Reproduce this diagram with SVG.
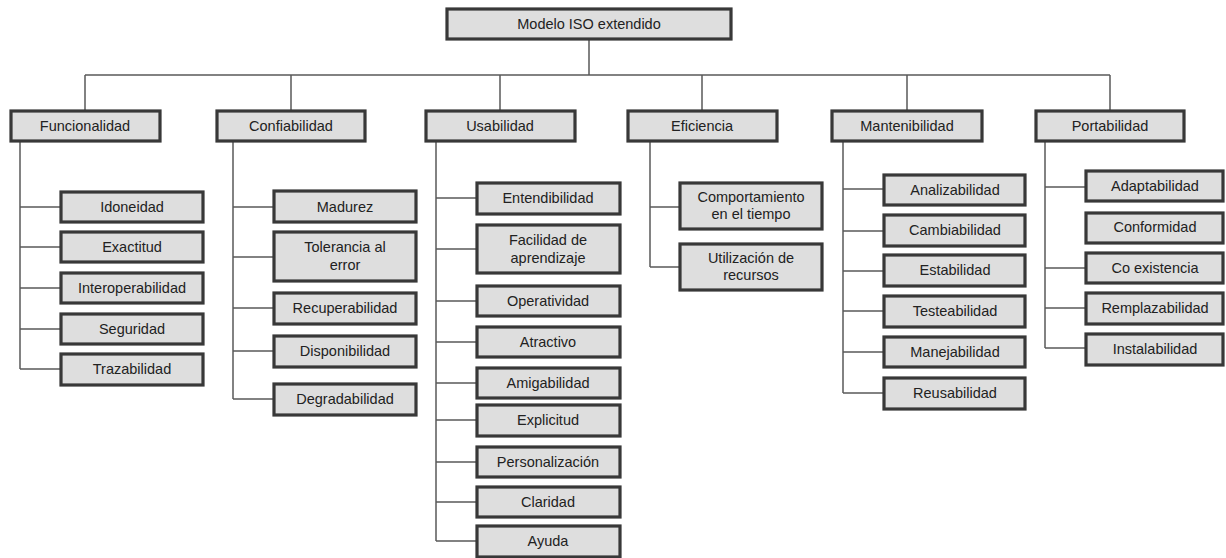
<svg xmlns="http://www.w3.org/2000/svg" width="1226" height="558" viewBox="0 0 1226 558">
<style>
.bg{fill:#ffffff}
.box{fill:#dedede;stroke:#383838;stroke-width:3.2}
.lbl{font-family:"Liberation Sans",Arial,sans-serif;font-size:14.5px;fill:#222;text-anchor:middle}
.conn{fill:none;stroke:#5a5a5a;stroke-width:1.5}
</style>
<rect class="bg" x="0" y="0" width="1226" height="558"/>
<g id="connectors">
<path class="conn" d="M589,39V75M85,75H1110M85,75V111M291,75V111M500,75V111M702,75V111M907,75V111M1110,75V111"/>
<path class="conn" d="M20,142V369M20,207H60M20,247H60M20,288H60M20,329H60M20,369H60"/>
<path class="conn" d="M233,142V399M233,207H273M233,257H273M233,308H273M233,351H273M233,399H273"/>
<path class="conn" d="M436,142V541M436,198H476M436,249H476M436,301H476M436,342H476M436,383H476M436,420H476M436,462H476M436,502H476M436,541H476"/>
<path class="conn" d="M650,142V267M650,207H679M650,267H679"/>
<path class="conn" d="M843,142V393M843,189H883M843,231H883M843,271H883M843,311H883M843,352H883M843,393H883"/>
<path class="conn" d="M1045,142V348M1045,187H1085M1045,268H1085M1045,308H1085M1045,348H1085"/>
</g>
<g id="root"><rect class="box" x="447" y="9" width="284" height="30"/><text class="lbl" x="589" y="29">Modelo ISO extendido</text></g>
<g id="funcionalidad"><rect class="box" x="11" y="111" width="149" height="30"/><text class="lbl" x="85" y="131">Funcionalidad</text></g>
<g id="confiabilidad"><rect class="box" x="217" y="111" width="148" height="30"/><text class="lbl" x="291" y="131">Confiabilidad</text></g>
<g id="usabilidad"><rect class="box" x="426" y="111" width="149" height="30"/><text class="lbl" x="500" y="131">Usabilidad</text></g>
<g id="eficiencia"><rect class="box" x="628" y="111" width="149" height="30"/><text class="lbl" x="702" y="131">Eficiencia</text></g>
<g id="mantenibilidad"><rect class="box" x="832" y="111" width="150" height="30"/><text class="lbl" x="907" y="131">Mantenibilidad</text></g>
<g id="portabilidad"><rect class="box" x="1036" y="111" width="148" height="30"/><text class="lbl" x="1110" y="131">Portabilidad</text></g>

<g id="idoneidad"><rect class="box" x="61" y="192" width="142" height="30"/><text class="lbl" x="132" y="212">Idoneidad</text></g>
<g id="exactitud"><rect class="box" x="61" y="232" width="142" height="30"/><text class="lbl" x="132" y="252">Exactitud</text></g>
<g id="interoperabilidad"><rect class="box" x="61" y="273" width="142" height="30"/><text class="lbl" x="132" y="293">Interoperabilidad</text></g>
<g id="seguridad"><rect class="box" x="61" y="314" width="142" height="30"/><text class="lbl" x="132" y="334">Seguridad</text></g>
<g id="trazabilidad"><rect class="box" x="61" y="354" width="142" height="31"/><text class="lbl" x="132" y="374">Trazabilidad</text></g>

<g id="madurez"><rect class="box" x="274" y="191" width="142" height="31"/><text class="lbl" x="345" y="212">Madurez</text></g>
<g id="tolerancia"><rect class="box" x="274" y="232" width="142" height="49"/><text class="lbl" x="345" y="252">Tolerancia al</text><text class="lbl" x="345" y="270">error</text></g>
<g id="recuperabilidad"><rect class="box" x="274" y="293" width="142" height="31"/><text class="lbl" x="345" y="313">Recuperabilidad</text></g>
<g id="disponibilidad"><rect class="box" x="274" y="336" width="142" height="31"/><text class="lbl" x="345" y="356">Disponibilidad</text></g>
<g id="degradabilidad"><rect class="box" x="274" y="384" width="142" height="31"/><text class="lbl" x="345" y="404">Degradabilidad</text></g>

<g id="entendibilidad"><rect class="box" x="477" y="183" width="143" height="31"/><text class="lbl" x="548" y="203">Entendibilidad</text></g>
<g id="facilidad"><rect class="box" x="477" y="225" width="143" height="48"/><text class="lbl" x="548" y="245">Facilidad de</text><text class="lbl" x="548" y="263">aprendizaje</text></g>
<g id="operatividad"><rect class="box" x="477" y="286" width="143" height="30"/><text class="lbl" x="548" y="306">Operatividad</text></g>
<g id="atractivo"><rect class="box" x="477" y="327" width="143" height="30"/><text class="lbl" x="548" y="347">Atractivo</text></g>
<g id="amigabilidad"><rect class="box" x="477" y="368" width="143" height="30"/><text class="lbl" x="548" y="388">Amigabilidad</text></g>
<g id="explicitud"><rect class="box" x="477" y="405" width="143" height="31"/><text class="lbl" x="548" y="425">Explicitud</text></g>
<g id="personalizacion"><rect class="box" x="477" y="447" width="143" height="30"/><text class="lbl" x="548" y="467">Personalización</text></g>
<g id="claridad"><rect class="box" x="477" y="487" width="143" height="30"/><text class="lbl" x="548" y="507">Claridad</text></g>
<g id="ayuda"><rect class="box" x="477" y="526" width="143" height="31"/><text class="lbl" x="548" y="546">Ayuda</text></g>

<g id="comportamiento"><rect class="box" x="680" y="183" width="142" height="46"/><text class="lbl" x="751" y="202">Comportamiento</text><text class="lbl" x="751" y="219">en el tiempo</text></g>
<g id="utilizacion"><rect class="box" x="680" y="244" width="142" height="46"/><text class="lbl" x="751" y="263">Utilización de</text><text class="lbl" x="751" y="280">recursos</text></g>

<g id="analizabilidad"><rect class="box" x="884" y="175" width="141" height="30"/><text class="lbl" x="955" y="195">Analizabilidad</text></g>
<g id="cambiabilidad"><rect class="box" x="884" y="215" width="141" height="31"/><text class="lbl" x="955" y="235">Cambiabilidad</text></g>
<g id="estabilidad"><rect class="box" x="884" y="255" width="141" height="31"/><text class="lbl" x="955" y="275">Estabilidad</text></g>
<g id="testeabilidad"><rect class="box" x="884" y="296" width="141" height="31"/><text class="lbl" x="955" y="316">Testeabilidad</text></g>
<g id="manejabilidad"><rect class="box" x="884" y="337" width="141" height="30"/><text class="lbl" x="955" y="357">Manejabilidad</text></g>
<g id="reusabilidad"><rect class="box" x="884" y="378" width="141" height="31"/><text class="lbl" x="955" y="398">Reusabilidad</text></g>

<g id="adaptabilidad"><rect class="box" x="1086" y="171" width="137" height="30"/><text class="lbl" x="1155" y="191">Adaptabilidad</text></g>
<g id="conformidad"><rect class="box" x="1086" y="213" width="137" height="30"/><text class="lbl" x="1155" y="232">Conformidad</text></g>
<g id="coexistencia"><rect class="box" x="1086" y="253" width="137" height="30"/><text class="lbl" x="1155" y="273">Co existencia</text></g>
<g id="remplazabilidad"><rect class="box" x="1086" y="293" width="137" height="31"/><text class="lbl" x="1155" y="313">Remplazabilidad</text></g>
<g id="instalabilidad"><rect class="box" x="1086" y="334" width="137" height="31"/><text class="lbl" x="1155" y="354">Instalabilidad</text></g>
</svg>
